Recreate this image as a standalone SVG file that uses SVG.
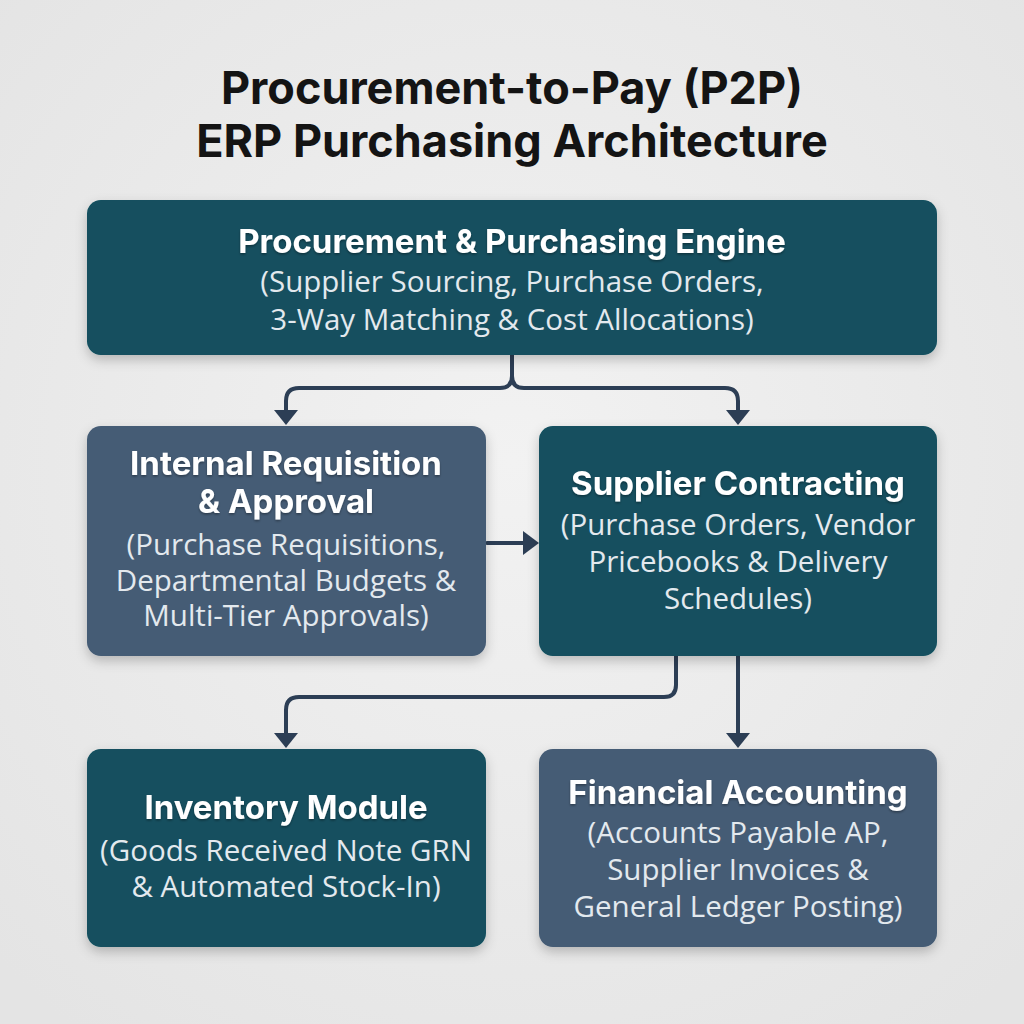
<svg xmlns="http://www.w3.org/2000/svg" width="1024" height="1024" viewBox="0 0 1024 1024">
<defs>
<radialGradient id="bg" cx="50%" cy="45%" r="70%"><stop offset="0" stop-color="#f2f2f2"/><stop offset="1" stop-color="#e4e4e4"/></radialGradient>
<filter id="sh" x="-10%" y="-10%" width="120%" height="130%"><feDropShadow dx="0" dy="5" stdDeviation="6" flood-color="#000" flood-opacity="0.22"/></filter>
<filter id="ts" x="-5%" y="-20%" width="110%" height="140%"><feDropShadow dx="0" dy="1.5" stdDeviation="1" flood-color="#000" flood-opacity="0.35"/></filter>
<style>
.teal{fill:#124f5e}
.slate{fill:#445b74}
.t{font-family:Inter,"Open Sans","Liberation Sans",sans-serif;font-weight:700;fill:#ffffff;text-anchor:middle;font-size:33px}
.b{font-family:"Open Sans",Inter,"Liberation Sans",sans-serif;font-weight:400;fill:#e3e9ee;text-anchor:middle;font-size:29.5px}
.h{font-family:Inter,"Open Sans","Liberation Sans",sans-serif;font-weight:700;fill:#141414;text-anchor:middle;font-size:45px}
.c{fill:none;stroke:#2c3e55;stroke-width:4;stroke-linecap:round;stroke-linejoin:round}
.a{fill:#2c3e55}
</style>
</defs>
<rect width="1024" height="1024" fill="url(#bg)"/>
<g id="title">
<text class="h" x="512" y="104">Procurement-to-Pay (P2P)</text>
<text class="h" x="512" y="157">ERP Purchasing Architecture</text>
</g>
<g id="connectors">
<path class="c" d="M512,355 V376 Q512,388 500,388 H299 Q286,388 286,401 V415"/>
<path class="c" d="M512,355 V376 Q512,388 524,388 H725 Q738,388 738,401 V415"/>
<path class="c" d="M487,543 H527"/>
<path class="c" d="M676,656 V685 Q676,697 664,697 H299 Q286,697 286,710 V738"/>
<path class="c" d="M738,656 V738"/>
<path class="a" d="M274,410 L298,410 L286,425 Z"/>
<path class="a" d="M726,410 L750,410 L738,425 Z"/>
<path class="a" d="M523,531 L523,555 L539,543 Z"/>
<path class="a" d="M274,733 L298,733 L286,748 Z"/>
<path class="a" d="M726,733 L750,733 L738,748 Z"/>
</g>
<g id="engine">
<rect class="teal" x="87" y="200" width="850" height="155" rx="14" filter="url(#sh)"/>
<text class="t" x="512" y="253" filter="url(#ts)">Procurement &amp; Purchasing Engine</text>
<text class="b" x="512" y="292">(Supplier Sourcing, Purchase Orders,</text>
<text class="b" x="512" y="330">3-Way Matching &amp; Cost Allocations)</text>
</g>
<g id="requisition">
<rect class="slate" x="87" y="426" width="399" height="230" rx="14" filter="url(#sh)"/>
<text class="t" x="286" y="475" filter="url(#ts)">Internal Requisition</text>
<text class="t" x="286" y="513" filter="url(#ts)">&amp; Approval</text>
<text class="b" x="286" y="555">(Purchase Requisitions,</text>
<text class="b" x="286" y="591">Departmental Budgets &amp;</text>
<text class="b" x="286" y="626">Multi-Tier Approvals)</text>
</g>
<g id="contracting">
<rect class="teal" x="539" y="426" width="398" height="230" rx="14" filter="url(#sh)"/>
<text class="t" x="738" y="495" filter="url(#ts)">Supplier Contracting</text>
<text class="b" x="738" y="535">(Purchase Orders, Vendor</text>
<text class="b" x="738" y="572">Pricebooks &amp; Delivery</text>
<text class="b" x="738" y="609">Schedules)</text>
</g>
<g id="inventory">
<rect class="teal" x="87" y="749" width="399" height="198" rx="14" filter="url(#sh)"/>
<text class="t" x="286" y="819" filter="url(#ts)">Inventory Module</text>
<text class="b" x="286" y="861">(Goods Received Note GRN</text>
<text class="b" x="286" y="897">&amp; Automated Stock-In)</text>
</g>
<g id="accounting">
<rect class="slate" x="539" y="749" width="398" height="198" rx="14" filter="url(#sh)"/>
<text class="t" x="738" y="804" filter="url(#ts)">Financial Accounting</text>
<text class="b" x="738" y="843">(Accounts Payable AP,</text>
<text class="b" x="738" y="880">Supplier Invoices &amp;</text>
<text class="b" x="738" y="917">General Ledger Posting)</text>
</g>
</svg>
